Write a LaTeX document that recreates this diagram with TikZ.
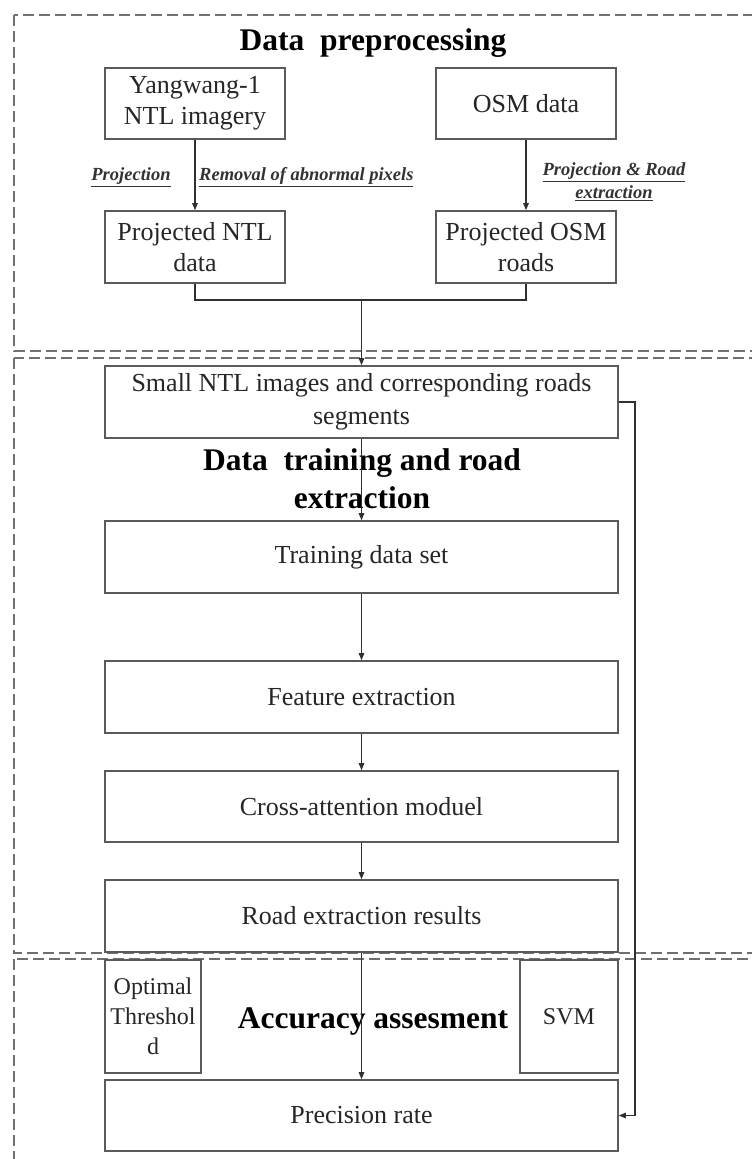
\documentclass[tikz,border=0pt]{standalone}
\usepackage{fontspec}
\setmainfont{Liberation Serif}
\usetikzlibrary{arrows.meta,positioning}
\definecolor{boxgray}{HTML}{5A5A5A}
\definecolor{linegray}{HTML}{303030}
\definecolor{dashgray}{HTML}{707070}
\tikzset{
  boxnode/.style={draw=boxgray, line width=1.6pt, inner sep=0pt, align=center,
    font=\fontsize{26}{31}\selectfont, text=black!85},
  smallbox/.style={boxnode, font=\fontsize{24}{30}\selectfont},
  wide/.style={minimum width=513pt, minimum height=72pt},
  half/.style={minimum width=180pt, minimum height=71pt},
  titletext/.style={font=\fontsize{31.5}{38}\selectfont\bfseries, align=center, inner sep=0pt},
  labeltext/.style={font=\fontsize{18.5}{23}\selectfont\bfseries\itshape, align=center, inner sep=0pt, text=black!80},
  conn/.style={draw=linegray, line width=1.2pt},
  arr/.style={conn, -{Triangle[length=7pt,width=5.5pt]}},
  region/.style={draw=dashgray, line width=1.4pt, dash pattern=on 11pt off 5pt}
}
\begin{document}
\begin{tikzpicture}[x=1pt,y=-1pt]
\useasboundingbox (0,0) rectangle (752,1159);
\fill[white] (0,0) rectangle (752,1159);
\begin{scope}
\clip (0,0) rectangle (752,1159);
\draw[region] (14,15) rectangle (800,351);
\draw[region] (14,358) rectangle (800,953);
\draw[region] (14,959) rectangle (800,1220);
\end{scope}

% titles
\node[titletext] (t1) at (373,43) {Data~~preprocessing};
\node[titletext] (t2) at (362,479) {Data~~training and road\\extraction};
\node[titletext] (t3) at (373,1021) {Accuracy assesment};

% top section
\node[boxnode, half] (yang) at (195,103.5) {Yangwang-1\\NTL imagery};
\node[boxnode, half] (osm) at (526,103.5) {OSM data};
\node[boxnode, half, minimum height=72pt] (pntl) at (195,247) {Projected NTL\\data};
\node[boxnode, half, minimum height=72pt] (posm) at (526,247) {Projected OSM\\roads};

\node[labeltext] (l1) at (131,177) {\underline{Projection}};
\node[labeltext, anchor=west] (l2) at (199,177) {\underline{Removal of abnormal pixels}};
\node[labeltext] (l3) at (614,182) {\underline{Projection \& Road}\\\underline{extraction}};

% middle section
\node[boxnode, wide, font=\fontsize{26}{33}\selectfont] (small) at (361.5,402) {Small NTL images and corresponding roads\\segments};
\node[boxnode, wide] (train) at (361.5,557) {Training data set};
\node[boxnode, wide] (feat) at (361.5,697) {Feature extraction};
\node[boxnode, wide, minimum height=71pt] (cross) at (361.5,806.5) {Cross-attention moduel};
\node[boxnode, wide] (road) at (361.5,916) {Road extraction results};

% bottom section
\node[smallbox, minimum width=96pt, minimum height=113pt] (opt) at (153,1016.5) {Optimal\\Threshol\\d};
\node[smallbox, minimum width=98pt, minimum height=113pt] (svm) at (569,1016.5) {SVM};
\node[boxnode, wide, minimum height=71pt] (prec) at (361.5,1115.5) {Precision rate};

% connectors
\draw[arr] (yang.south) -- (pntl.north);
\draw[arr] (osm.south) -- (posm.north);
\coordinate (join) at (small.north |- 0,300);
\draw[conn] (pntl.south) |- (join) -| (posm.south);
\draw[arr] (join) -- (small.north);
\draw[arr] (small.south) -- (train.north);
\draw[arr] (train.south) -- (feat.north);
\draw[arr] (feat.south) -- (cross.north);
\draw[arr] (cross.south) -- (road.north);
\draw[arr] (road.south) -- (prec.north);
\coordinate (rturn) at (635,402);
\draw[arr] (small.east) -- (rturn) |- (prec.east);
\end{tikzpicture}
\end{document}
